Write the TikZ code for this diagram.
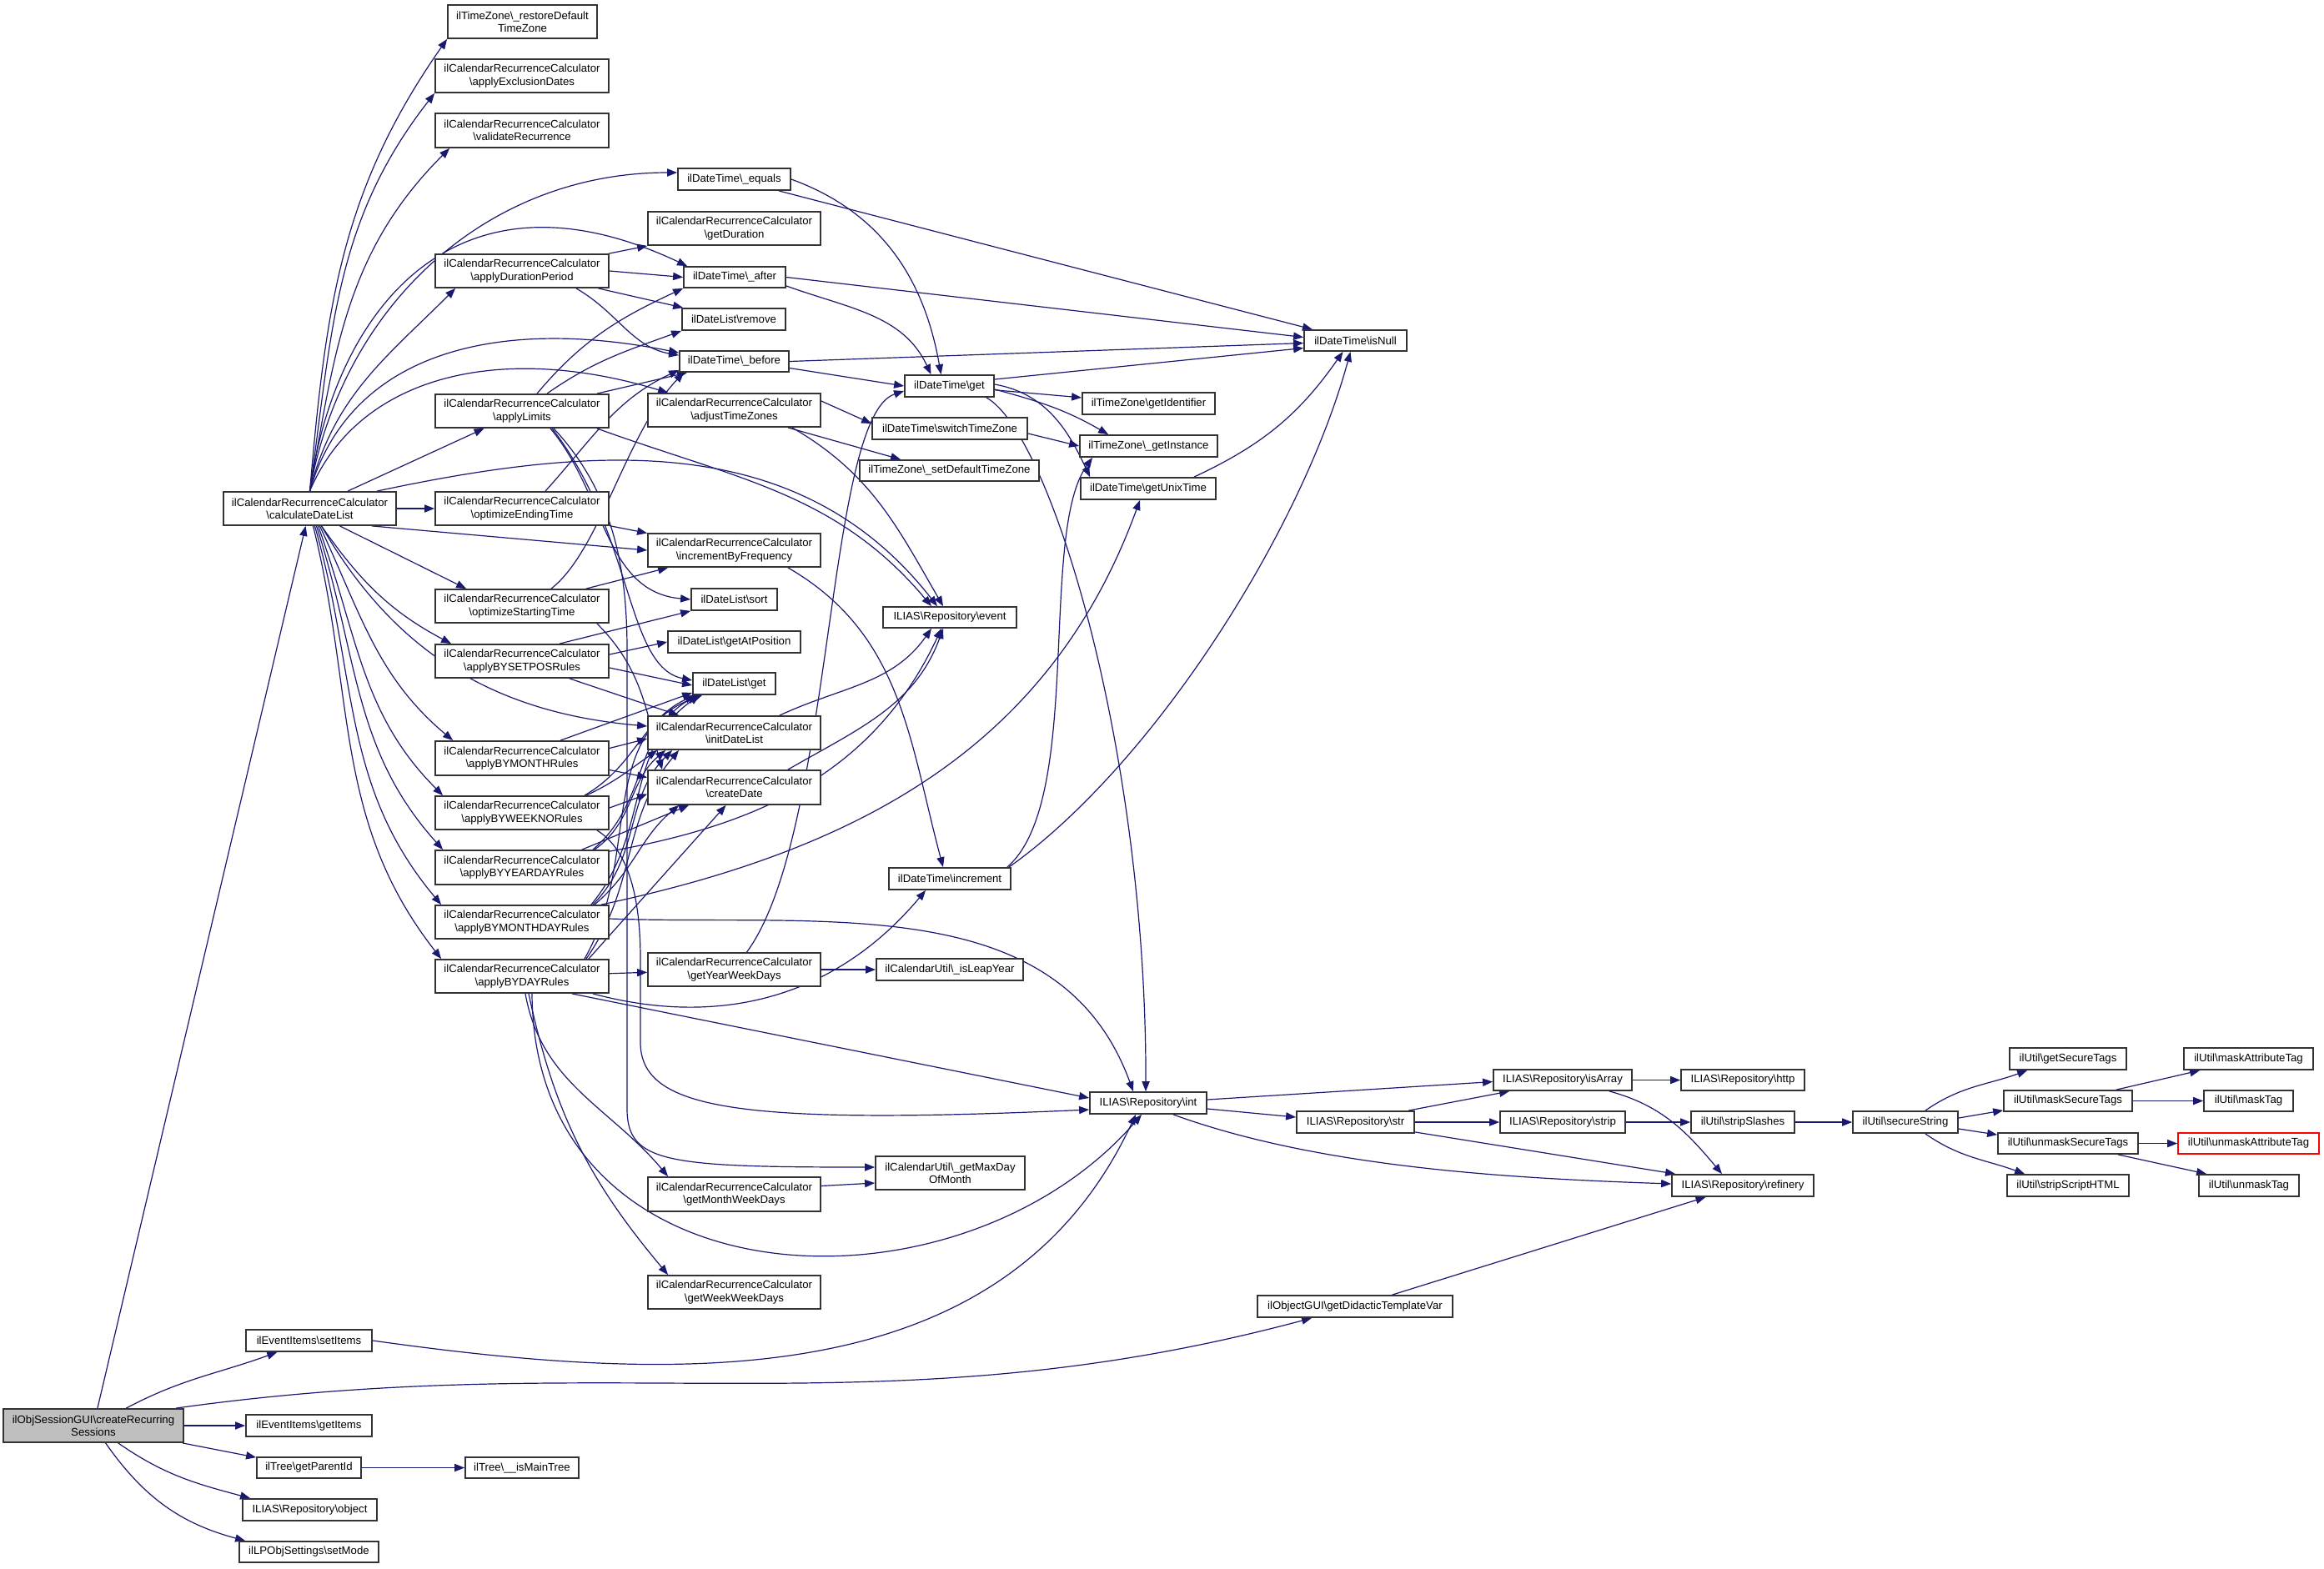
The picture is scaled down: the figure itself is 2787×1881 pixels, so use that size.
\documentclass[tikz,border=0pt]{standalone}
\usepackage{fontspec}
\setmainfont{Liberation Sans}
\usetikzlibrary{arrows.meta,calc}
\definecolor{edgec}{HTML}{191970}
\definecolor{rootfill}{HTML}{BFBFBF}
\definecolor{bordc}{HTML}{333333}
\newcommand\bs{\textbackslash}
\newcommand\bx[7][]{\node[box,#1,minimum width={(#5-#3)*0.5pt},minimum height={(#6-#4)*0.5pt}] (#2) at ({(#3+#5)/2},{(#4+#6)/2}) {#7};}
\pgfdeclarelayer{bg}\pgfsetlayers{bg,main}
\begin{document}
\begin{tikzpicture}[x=0.5pt,y=-0.5pt,
  box/.style={draw=bordc,line width=0.9pt,fill=white,inner sep=0pt,align=center,font=\fontsize{6.6}{7.6}\selectfont},
  rootbox/.style={fill=rootfill},
  redbox/.style={draw=red},
  callarrow/.style={draw=edgec,line width=0.6pt,-{Triangle[length=6pt,width=4.6pt]}}]
\useasboundingbox (0,0) rectangle (2787,1881);
% ---- nodes
\bx[rootbox]{ses}{4}{1690}{220}{1730}{ilObjSessionGUI\bs createRecurring\\Sessions}
\bx{setItems}{295}{1595}{446}{1621}{ilEventItems\bs setItems}
\bx{getItems}{295}{1697}{446}{1723}{ilEventItems\bs getItems}
\bx{getParentId}{308}{1748}{433}{1773}{ilTree\bs getParentId}
\bx{isMainTree}{558}{1748}{694}{1773}{ilTree\bs\_\_isMainTree}
\bx{object}{291}{1798}{452}{1824}{ILIAS\bs Repository\bs object}
\bx{setMode}{287}{1849}{454}{1874}{ilLPObjSettings\bs setMode}
\bx{cdl}{268}{590}{475}{630}{ilCalendarRecurrenceCalculator\\\bs calculateDateList}
\bx{restoreTZ}{537}{6}{716}{46}{ilTimeZone\bs\_restoreDefault\\TimeZone}
\bx{exclusion}{522}{71}{730}{111}{ilCalendarRecurrenceCalculator\\\bs applyExclusionDates}
\bx{validate}{522}{136}{730}{177}{ilCalendarRecurrenceCalculator\\\bs validateRecurrence}
\bx{duration}{522}{305}{730}{345}{ilCalendarRecurrenceCalculator\\\bs applyDurationPeriod}
\bx{limits}{522}{473}{730}{513}{ilCalendarRecurrenceCalculator\\\bs applyLimits}
\bx{endTime}{522}{590}{730}{630}{ilCalendarRecurrenceCalculator\\\bs optimizeEndingTime}
\bx{startTime}{522}{707}{730}{747}{ilCalendarRecurrenceCalculator\\\bs optimizeStartingTime}
\bx{setpos}{522}{773}{730}{813}{ilCalendarRecurrenceCalculator\\\bs applyBYSETPOSRules}
\bx{bymonth}{522}{889}{730}{930}{ilCalendarRecurrenceCalculator\\\bs applyBYMONTHRules}
\bx{byweekno}{522}{955}{730}{995}{ilCalendarRecurrenceCalculator\\\bs applyBYWEEKNORules}
\bx{byyearday}{522}{1020}{730}{1061}{ilCalendarRecurrenceCalculator\\\bs applyBYYEARDAYRules}
\bx{bymonthday}{522}{1086}{730}{1126}{ilCalendarRecurrenceCalculator\\\bs applyBYMONTHDAYRules}
\bx{byday}{522}{1151}{730}{1191}{ilCalendarRecurrenceCalculator\\\bs applyBYDAYRules}
\bx{equals}{813}{202}{948}{228}{ilDateTime\bs\_equals}
\bx{getDuration}{777}{254}{984}{294}{ilCalendarRecurrenceCalculator\\\bs getDuration}
\bx{after}{820}{320}{942}{345}{ilDateTime\bs\_after}
\bx{remove}{818}{370}{942}{396}{ilDateList\bs remove}
\bx{before}{815}{421}{946}{446}{ilDateTime\bs\_before}
\bx{adjustTZ}{777}{472}{984}{512}{ilCalendarRecurrenceCalculator\\\bs adjustTimeZones}
\bx{incFreq}{777}{640}{984}{680}{ilCalendarRecurrenceCalculator\\\bs incrementByFrequency}
\bx{sort}{829}{706}{932}{732}{ilDateList\bs sort}
\bx{getAtPos}{801}{757}{960}{783}{ilDateList\bs getAtPosition}
\bx{dlget}{831}{807}{930}{833}{ilDateList\bs get}
\bx{initDL}{777}{859}{984}{899}{ilCalendarRecurrenceCalculator\\\bs initDateList}
\bx{createDate}{777}{924}{984}{965}{ilCalendarRecurrenceCalculator\\\bs createDate}
\bx{getYWD}{777}{1143}{984}{1183}{ilCalendarRecurrenceCalculator\\\bs getYearWeekDays}
\bx{getMWD}{777}{1412}{984}{1453}{ilCalendarRecurrenceCalculator\\\bs getMonthWeekDays}
\bx{getWWD}{777}{1530}{984}{1570}{ilCalendarRecurrenceCalculator\\\bs getWeekWeekDays}
\bx{dtget}{1085}{450}{1192}{476}{ilDateTime\bs get}
\bx{switchTZ}{1046}{501}{1232}{527}{ilDateTime\bs switchTimeZone}
\bx{setDefTZ}{1031}{552}{1246}{577}{ilTimeZone\bs\_setDefaultTimeZone}
\bx{event}{1059}{728}{1219}{753}{ILIAS\bs Repository\bs event}
\bx{increment}{1066}{1041}{1212}{1067}{ilDateTime\bs increment}
\bx{isLeap}{1051}{1150}{1227}{1176}{ilCalendarUtil\bs\_isLeapYear}
\bx{maxDay}{1050}{1387}{1229}{1427}{ilCalendarUtil\bs\_getMaxDay\\OfMonth}
\bx{getIdent}{1298}{471}{1457}{497}{ilTimeZone\bs getIdentifier}
\bx{getInst}{1295}{522}{1460}{548}{ilTimeZone\bs\_getInstance}
\bx{unixTime}{1296}{573}{1458}{599}{ilDateTime\bs getUnixTime}
\bx{isNull}{1564}{396}{1687}{421}{ilDateTime\bs isNull}
\bx{int}{1307}{1310}{1447}{1336}{ILIAS\bs Repository\bs int}
\bx{didactic}{1508}{1554}{1742}{1580}{ilObjectGUI\bs getDidacticTemplateVar}
\bx{str}{1555}{1333}{1696}{1359}{ILIAS\bs Repository\bs str}
\bx{isArray}{1791}{1283}{1957}{1308}{ILIAS\bs Repository\bs isArray}
\bx{strip}{1799}{1333}{1949}{1359}{ILIAS\bs Repository\bs strip}
\bx{http}{2016}{1283}{2164}{1308}{ILIAS\bs Repository\bs http}
\bx{stripSl}{2028}{1333}{2152}{1359}{ilUtil\bs stripSlashes}
\bx{refinery}{2005}{1409}{2175}{1435}{ILIAS\bs Repository\bs refinery}
\bx{secure}{2222}{1333}{2348}{1359}{ilUtil\bs secureString}
\bx{getSecTags}{2410}{1257}{2550}{1283}{ilUtil\bs getSecureTags}
\bx{maskSec}{2403}{1308}{2557}{1333}{ilUtil\bs maskSecureTags}
\bx{unmaskSec}{2396}{1359}{2564}{1384}{ilUtil\bs unmaskSecureTags}
\bx{stripScript}{2407}{1409}{2553}{1435}{ilUtil\bs stripScriptHTML}
\bx{maskAttr}{2619}{1257}{2774}{1283}{ilUtil\bs maskAttributeTag}
\bx{maskTag}{2643}{1308}{2750}{1333}{ilUtil\bs maskTag}
\bx[redbox]{unmaskAttr}{2612}{1359}{2781}{1384}{ilUtil\bs unmaskAttributeTag}
\bx{unmaskTag}{2637}{1409}{2757}{1435}{ilUtil\bs unmaskTag}
% ---- edges
\begin{pgfonlayer}{bg}
% root
\draw[callarrow] (ses) -- (cdl);
\draw[callarrow] (ses) to[out=28,in=200] (setItems);
\draw[callarrow] ($(ses.north east)+(-10,0)$) to[out=8,in=195] ($(didactic.south west)+(66,0)$);
\draw[callarrow] (ses) -- (getItems);
\draw[callarrow] (ses) -- (getParentId);
\draw[callarrow] (ses) to[out=-35,in=165] ($(object.north west)+(10,0)$);
\draw[callarrow] (ses) to[out=-55,in=165] ($(setMode.north west)+(8,0)$);
\draw[callarrow] (getParentId) -- (isMainTree);
\draw[callarrow] (setItems.east) to[out=-8,in=245] ($(int.south)+(-15,0)$);
\draw[callarrow] (didactic) -- (refinery);
% calculateDateList
\draw[callarrow] (cdl.north) to[out=85,in=235] (restoreTZ.south west);
\draw[callarrow] (cdl.north) to[out=82,in=232] (exclusion.south west);
\draw[callarrow] (cdl.north) to[out=80,in=225] ($(validate.south west)+(18,0)$);
\draw[callarrow] (cdl.north) to[out=80,in=180] ($(equals.west)+(0,-8)$);
\draw[callarrow] (cdl.north) .. controls (400,380) and (540,185) .. ($(after.north west)+(5,0)$);
\draw[callarrow] (cdl.north) to[out=76,in=225] ($(duration.south west)+(25,0)$);
\draw[callarrow] (cdl.north) .. controls (420,420) and (600,380) .. ($(before.north west)+(0,3)$);
\draw[callarrow] (cdl.north) .. controls (430,450) and (600,410) .. ($(adjustTZ.north west)+(25,0)$);
\draw[callarrow] (cdl) -- (limits);
\draw[callarrow] (cdl) -- (endTime);
\draw[callarrow] ($(cdl.south east)+(-30,0)$) -- (incFreq.west);
\draw[callarrow] ($(cdl.north east)+(-24,0)$) to[out=12,in=128] ($(event.north)+(-15,0)$);
\draw[callarrow] ($(cdl.south)+(36,0)$) -- ($(startTime.north west)+(38,0)$);
\draw[callarrow] ($(cdl.south)+(14,0)$) to[out=-55,in=152] ($(setpos.north west)+(20,0)$);
\draw[callarrow] ($(cdl.south)+(14,0)$) to[out=-60,in=175] ($(initDL.west)+(0,-8)$);
\draw[callarrow] ($(cdl.south)+(12,0)$) to[out=-65,in=140] ($(bymonth.north west)+(22,0)$);
\draw[callarrow] ($(cdl.south)+(10,0)$) to[out=-70,in=135] ($(byweekno.north west)+(10,0)$);
\draw[callarrow] ($(cdl.south)+(8,0)$) to[out=-72,in=132] ($(byyearday.north west)+(10,0)$);
\draw[callarrow] ($(cdl.south)+(6,0)$) to[out=-74,in=130] ($(bymonthday.north west)+(8,0)$);
\draw[callarrow] ($(cdl.south)+(4,0)$) to[out=-76,in=128] ($(byday.north west)+(8,0)$);
% applyDurationPeriod
\draw[callarrow] (duration) -- (getDuration);
\draw[callarrow] (duration.east) -- (after.west);
\draw[callarrow] (duration) -- (remove);
\draw[callarrow] ($(duration.south)+(65,0)$) to[out=-30,in=170] ($(before.north west)+(0,6)$);
% applyLimits
\draw[callarrow] ($(limits.north)+(18,0)$) to[out=50,in=205] (after.south west);
\draw[callarrow] ($(limits.north)+(30,0)$) to[out=35,in=200] (remove.south west);
\draw[callarrow] ($(limits.north east)+(-15,0)$) -- ($(before.south west)+(10,0)$);
\draw[callarrow] ($(limits.south)+(34,0)$) to[out=-50,in=175] (sort.west);
\draw[callarrow] ($(limits.south)+(36,0)$) .. controls (760,640) and (750,800) .. ($(dlget.west)+(0,-4)$);
\draw[callarrow] ($(limits.south)+(38,0)$) .. controls (735,590) and (752,680) .. (752,780) -- (752,1330) .. controls (752,1395) and (800,1400) .. ($(maxDay.west)+(0,-7)$);
\draw[callarrow] ($(limits.south east)+(-15,0)$) to[out=-20,in=130] ($(event.north)+(-22,0)$);
% optimizeEndingTime / StartingTime
\draw[callarrow] ($(endTime.north)+(28,0)$) to[out=48,in=205] ($(before.south west)+(0,-3)$);
\draw[callarrow] (endTime) -- (incFreq);
\draw[callarrow] ($(startTime.north)+(35,0)$) .. controls (720,660) and (750,520) .. ($(before.south west)+(6,0)$);
\draw[callarrow] ($(startTime.north east)+(-28,0)$) -- ($(incFreq.south west)+(25,0)$);
\draw[callarrow] ($(startTime.south east)+(-15,0)$) to[out=-45,in=105] ($(createDate.north west)+(18,0)$);
% applyBYSETPOSRules
\draw[callarrow] ($(setpos.north)+(45,0)$) -- (sort.south west);
\draw[callarrow] ($(setpos.east)+(0,-8)$) -- (getAtPos.west);
\draw[callarrow] ($(setpos.east)+(0,8)$) -- ($(dlget.west)+(0,2)$);
\draw[callarrow] ($(setpos.south)+(57,0)$) -- ($(initDL.north west)+(38,0)$);
% applyBYMONTHRules
\draw[callarrow] ($(bymonth.north)+(46,0)$) -- ($(dlget.south west)+(0,-3)$);
\draw[callarrow] ($(bymonth.east)+(0,-12)$) -- ($(initDL.west)+(0,7)$);
\draw[callarrow] ($(bymonth.east)+(0,14)$) -- ($(createDate.west)+(0,-12)$);
% applyBYWEEKNORules
\draw[callarrow] ($(byweekno.north east)+(-30,0)$) to[out=30,in=205] ($(dlget.south west)+(3,0)$);
\draw[callarrow] ($(byweekno.north east)+(-28,0)$) to[out=25,in=215] ($(initDL.south west)+(12,0)$);
\draw[callarrow] ($(byweekno.east)+(0,-6)$) -- ($(createDate.west)+(0,8)$);
\draw[callarrow] ($(byweekno.south east)+(-15,0)$) .. controls (755,1020) and (768,1080) .. (768,1150) -- (768,1250) .. controls (768,1330) and (880,1350) .. ($(int.west)+(0,8)$);
% applyBYYEARDAYRules
\draw[callarrow] ($(byyearday.north east)+(-20,0)$) to[out=40,in=210] ($(dlget.south west)+(6,0)$);
\draw[callarrow] ($(byyearday.north east)+(-18,0)$) to[out=35,in=220] ($(initDL.south west)+(22,0)$);
\draw[callarrow] ($(byyearday.north east)+(-33,0)$) -- ($(createDate.south west)+(50,0)$);
\draw[callarrow] ($(byyearday.north east)+(0,2)$) to[out=10,in=245] ($(event.south)+(-10,0)$);
% applyBYMONTHDAYRules
\draw[callarrow] ($(bymonthday.north east)+(-22,0)$) to[out=50,in=215] ($(dlget.south west)+(9,0)$);
\draw[callarrow] ($(bymonthday.north east)+(-20,0)$) to[out=45,in=225] ($(initDL.south west)+(30,0)$);
\draw[callarrow] ($(bymonthday.north east)+(-18,0)$) to[out=40,in=220] ($(createDate.south west)+(38,0)$);
\draw[callarrow] ($(bymonthday.north east)+(-10,0)$) to[out=12,in=250] ($(unixTime.south)+(-10,0)$);
\draw[callarrow] ($(bymonthday.east)+(0,-4)$) to[out=-2,in=110] ($(int.north)+(-18,0)$);
% applyBYDAYRules
\draw[callarrow] (byday) -- (getYWD);
\draw[callarrow] ($(byday.north east)+(-25,0)$) -- ($(createDate.south)+(-10,0)$);
\draw[callarrow] ($(byday.north east)+(-30,0)$) to[out=60,in=200] ($(dlget.south west)+(12,0)$);
\draw[callarrow] ($(byday.north east)+(-28,0)$) to[out=55,in=230] ($(initDL.south west)+(38,0)$);
\draw[callarrow] ($(byday.south east)+(-20,0)$) to[out=-15,in=230] ($(increment.south west)+(45,0)$);
\draw[callarrow] ($(byday.south east)+(-45,0)$) -- ($(int.west)+(0,-6)$);
\draw[callarrow] ($(byday.south)+(4,0)$) to[out=-80,in=130] ($(getMWD.north west)+(25,0)$);
\draw[callarrow] ($(byday.south)+(8,0)$) to[out=-78,in=130] ($(getWWD.north west)+(25,0)$);
\draw[callarrow] ($(byday.south)+(12,0)$) .. controls (640,1570) and (1150,1590) .. ($(int.south)+(-8,0)$);
% ilDateTime
\draw[callarrow] (equals.east) to[out=-20,in=100] ($(dtget.north)+(-10,0)$);
\draw[callarrow] (equals) -- (isNull);
\draw[callarrow] (after.east) -- ($(isNull.west)+(0,-4)$);
\draw[callarrow] ($(after.south east)+(0,-3)$) to[out=-20,in=115] ($(dtget.north)+(-22,0)$);
\draw[callarrow] (before.east) -- ($(isNull.west)+(0,3)$);
\draw[callarrow] ($(before.east)+(0,8)$) -- (dtget.west);
\draw[callarrow] ($(adjustTZ.east)+(0,-11)$) -- ($(switchTZ.west)+(0,-6)$);
\draw[callarrow] ($(adjustTZ.south east)+(-40,0)$) -- ($(setDefTZ.north west)+(50,0)$);
\draw[callarrow] ($(adjustTZ.south east)+(-35,0)$) to[out=-30,in=120] ($(event.north)+(-8,0)$);
\draw[callarrow] ($(switchTZ.east)+(0,6)$) -- (getInst.west);
\draw[callarrow] (dtget) -- (getIdent);
\draw[callarrow] ($(dtget.east)+(0,4)$) to[out=-15,in=150] ($(getInst.north west)+(35,0)$);
\draw[callarrow] ($(dtget.east)+(0,-2)$) to[out=-10,in=115] ($(unixTime.north west)+(12,0)$);
\draw[callarrow] ($(dtget.east)+(0,-8)$) -- ($(isNull.west)+(0,9)$);
\draw[callarrow] ($(dtget.south east)+(-10,0)$) .. controls (1260,520) and (1375,900) .. ($(int.north)+(-3,0)$);
\draw[callarrow] (getYWD) -- (isLeap);
\draw[callarrow] ($(getYWD.north)+(15,0)$) .. controls (1000,1000) and (990,500) .. ($(dtget.west)+(0,6)$);
\draw[callarrow] ($(getMWD.east)+(0,-10)$) -- ($(maxDay.west)+(0,12)$);
\draw[callarrow] ($(incFreq.south east)+(-40,0)$) to[out=-30,in=105] ($(increment.north)+(-8,0)$);
\draw[callarrow] ($(increment.north east)+(-5,0)$) .. controls (1300,960) and (1245,640) .. ($(getInst.south west)+(16,0)$);
\draw[callarrow] ($(increment.north east)+(-3,0)$) .. controls (1380,920) and (1560,640) .. ($(isNull.south)+(-6,0)$);
\draw[callarrow] ($(unixTime.north east)+(-27,0)$) to[out=25,in=235] ($(isNull.south)+(-15,0)$);
\draw[callarrow] ($(initDL.north east)+(-50,0)$) to[out=25,in=235] ($(event.south)+(-22,0)$);
\draw[callarrow] ($(createDate.north east)+(-40,0)$) to[out=30,in=250] ($(event.south)+(-8,0)$);
% repository / util
\draw[callarrow] ($(int.east)+(0,-4)$) -- ($(isArray.west)+(0,2)$);
\draw[callarrow] ($(int.east)+(0,7)$) -- ($(str.west)+(0,-6)$);
\draw[callarrow] ($(int.south)+(30,0)$) to[out=-20,in=178,looseness=0.8] ($(refinery.west)+(0,-2)$);
\draw[callarrow] ($(str.north east)+(-8,0)$) -- ($(isArray.south west)+(20,0)$);
\draw[callarrow] (str) -- (strip);
\draw[callarrow] ($(str.south east)+(0,-2)$) -- ($(refinery.north west)+(5,0)$);
\draw[callarrow] (isArray) -- (http);
\draw[callarrow] ($(isArray.south east)+(-28,0)$) to[out=-15,in=130] ($(refinery.north)+(-25,0)$);
\draw[callarrow] (strip) -- (stripSl);
\draw[callarrow] (stripSl) -- (secure);
\draw[callarrow] ($(secure.north east)+(-40,0)$) to[out=35,in=200] ($(getSecTags.south west)+(22,0)$);
\draw[callarrow] ($(secure.east)+(0,-5)$) -- ($(maskSec.south west)+(0,-2)$);
\draw[callarrow] ($(secure.east)+(0,8)$) -- ($(unmaskSec.north west)+(0,3)$);
\draw[callarrow] ($(secure.south east)+(-40,0)$) to[out=-35,in=160] ($(stripScript.north west)+(22,0)$);
\draw[callarrow] ($(maskSec.north east)+(-20,0)$) -- ($(maskAttr.south west)+(20,0)$);
\draw[callarrow] (maskSec) -- (maskTag);
\draw[callarrow] (unmaskSec) -- (unmaskAttr);
\draw[callarrow] ($(unmaskSec.south east)+(-25,0)$) -- ($(unmaskTag.north west)+(10,0)$);
\end{pgfonlayer}
\end{tikzpicture}
\end{document}
